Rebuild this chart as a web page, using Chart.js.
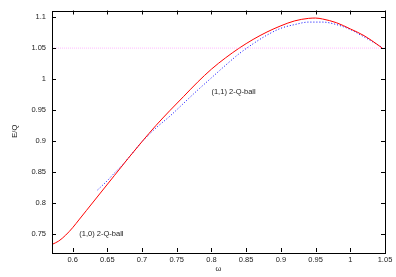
<!DOCTYPE html>
<html><head><meta charset="utf-8">
<script src="https://cdn.jsdelivr.net/npm/chart.js@4.4.0/dist/chart.umd.min.js"></script>
<style>html,body{margin:0;padding:0;background:#fff}#c{display:block}</style>
</head><body>
<canvas id="c" width="396" height="277"></canvas>
<script>
const redX = [0.5703,0.58,0.59,0.60,0.61,0.62,0.64,0.66,0.68,0.70,0.72,0.74,0.76,0.78,0.80,0.82,0.84,0.86,0.88,0.90,0.92,0.94,0.95,0.96,0.98,1.00,1.02,1.04,1.046];
const redY = [0.733,0.7385,0.748,0.760,0.774,0.788,0.816,0.844,0.872,0.899,0.925,0.949,0.972,0.995,1.016,1.034,1.050,1.064,1.076,1.086,1.094,1.098,1.0985,1.097,1.091,1.081,1.070,1.055,1.050];
const blueX = [0.636,0.65,0.66,0.67,0.68,0.70,0.72,0.74,0.76,0.78,0.80,0.82,0.84,0.86,0.88,0.90,0.92,0.94,0.96,0.98,1.00,1.02,1.04,1.046];
const blueY = [0.821,0.836,0.848,0.859,0.872,0.899,0.921,0.940,0.961,0.982,1.002,1.022,1.041,1.057,1.071,1.082,1.088,1.092,1.092,1.088,1.080,1.068,1.055,1.051];
const refX = [0.5703,1.05];
const refY = [1.05,1.05];
const xTicks = [0.6,0.65,0.7,0.75,0.8,0.85,0.9,0.95,1,1.05];
const yTicks = [0.75,0.8,0.85,0.9,0.95,1,1.05,1.1];
const labels = [{text:'(1,1) 2-Q-ball', x:0.80, y:0.98},{text:'(1,0) 2-Q-ball', x:0.6097, y:0.75}];

const pts = (xs, ys) => xs.map((x,i)=>({x, y:ys[i]}));
const FONT = "'Liberation Sans', Arial, sans-serif";

const framePlugin = {
  id:'frame',
  afterDatasetsDraw(chart){
    const {ctx, chartArea:a, scales:{x,y}} = chart;
    ctx.save();
    ctx.strokeStyle='#000'; ctx.lineWidth=1;
    ctx.strokeRect(Math.round(a.left)+0.5, Math.round(a.top)+0.5, Math.round(a.right-a.left), Math.round(a.bottom-a.top));
    const L=4;
    ctx.beginPath();
    x.ticks.forEach(t=>{const px=Math.round(x.getPixelForValue(t.value))+0.5;
      ctx.moveTo(px,a.bottom); ctx.lineTo(px,a.bottom-L);
      ctx.moveTo(px,a.top); ctx.lineTo(px,a.top+L);});
    y.ticks.forEach(t=>{const py=Math.round(y.getPixelForValue(t.value))+0.5;
      ctx.moveTo(a.left,py); ctx.lineTo(a.left+L,py);
      ctx.moveTo(a.right,py); ctx.lineTo(a.right-L,py);});
    ctx.stroke();
    ctx.fillStyle='#222'; ctx.font='7.5px '+FONT; ctx.textBaseline='middle'; ctx.textAlign='left';
    labels.forEach(l=>ctx.fillText(l.text, x.getPixelForValue(l.x), y.getPixelForValue(l.y)));
    ctx.restore();
  }
};

new Chart(document.getElementById('c'), {
  type:'scatter',
  data:{datasets:[
    {data:pts(refX,refY), showLine:true, borderColor:'rgba(255,120,255,0.5)', borderWidth:1, borderDash:[1,1], pointRadius:0},
    {data:pts(redX,redY), showLine:true, borderColor:'#ff0000', borderWidth:1, pointRadius:0, cubicInterpolationMode:'monotone'},
    {data:pts(blueX,blueY), showLine:true, borderColor:'#0000ff', borderWidth:1, borderDash:[1,2], pointRadius:0, cubicInterpolationMode:'monotone'}
  ]},
  options:{
    responsive:false, animation:false, devicePixelRatio:1,
    layout:{padding:{top:9,right:11,left:0,bottom:0}},
    plugins:{legend:{display:false}, tooltip:{enabled:false}},
    scales:{
      x:{type:'linear', min:0.5703, max:1.05,
        afterBuildTicks:s=>{s.ticks=xTicks.map(v=>({value:v}));},
        afterFit:s=>{s.height=25;},
        grid:{display:false, drawTicks:false}, border:{display:false},
        ticks:{callback:v=>String(v), font:{size:7.5,family:FONT}, color:'#222', padding:3, maxRotation:0, autoSkip:false},
        title:{display:true, text:'ω', font:{size:7.5,family:FONT}, color:'#222', padding:{top:0,bottom:4}}
      },
      y:{type:'linear', min:0.7208, max:1.1107,
        afterBuildTicks:s=>{s.ticks=yTicks.map(v=>({value:v}));},
        afterFit:s=>{s.width=52;},
        grid:{display:false, drawTicks:false}, border:{display:false},
        ticks:{callback:v=>String(v), font:{size:7.5,family:FONT}, color:'#222', padding:6, autoSkip:false},
        title:{display:true, text:'E/Q', font:{size:7.5,family:FONT}, color:'#222', padding:{top:10,bottom:0}}
      }
    }
  },
  plugins:[framePlugin]
});
</script>
</body></html>
